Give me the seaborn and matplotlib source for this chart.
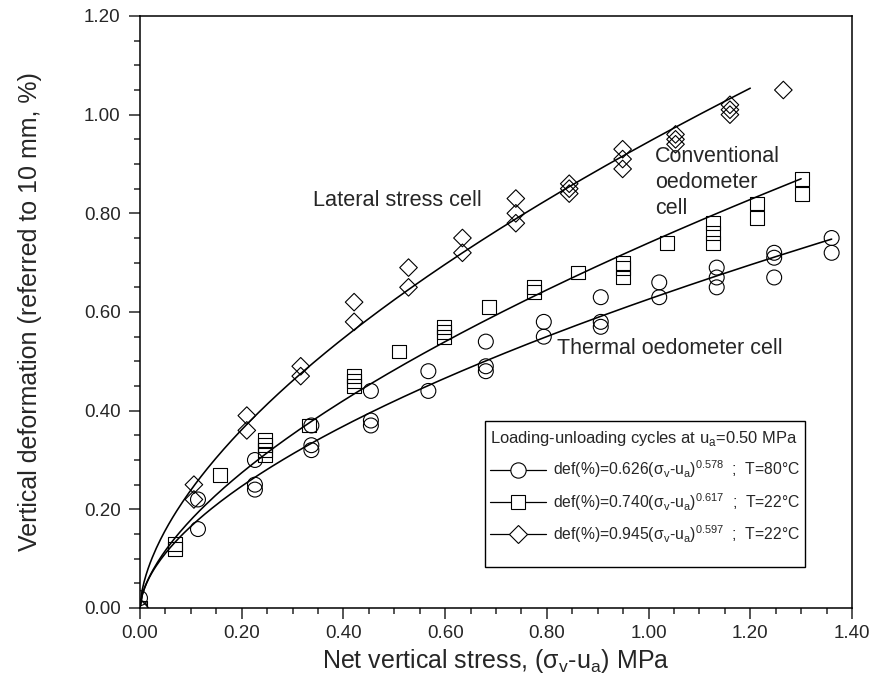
import numpy as np
import pandas as pd
import matplotlib
matplotlib.use("Agg")
import matplotlib.pyplot as plt
from matplotlib.lines import Line2D
from matplotlib.patches import Rectangle
from matplotlib.ticker import MultipleLocator, FormatStrFormatter
import seaborn as sns

# ---------------- data ----------------
thermal_x = [0.0, 0.0, 0.114, 0.114, 0.226, 0.226, 0.226, 0.337, 0.337, 0.337,
             0.454, 0.454, 0.454, 0.567, 0.567, 0.680, 0.680, 0.680, 0.794, 0.794,
             0.906, 0.906, 0.906, 1.021, 1.021, 1.134, 1.134, 1.134,
             1.247, 1.247, 1.247, 1.360, 1.360]
thermal_y = [0.0, 0.02, 0.16, 0.22, 0.24, 0.25, 0.30, 0.32, 0.33, 0.37,
             0.37, 0.38, 0.44, 0.44, 0.48, 0.48, 0.49, 0.54, 0.55, 0.58,
             0.57, 0.58, 0.63, 0.63, 0.66, 0.65, 0.67, 0.69,
             0.67, 0.71, 0.72, 0.72, 0.75]

conv_x = [0.0, 0.069, 0.069, 0.158, 0.245, 0.245, 0.245, 0.245, 0.333,
          0.421, 0.421, 0.421, 0.509, 0.598, 0.598, 0.598, 0.686, 0.775, 0.775,
          0.862, 0.950, 0.950, 0.950, 1.037, 1.126, 1.126, 1.126,
          1.214, 1.214, 1.302, 1.302]
conv_y = [0.0, 0.12, 0.13, 0.27, 0.31, 0.32, 0.33, 0.34, 0.37,
          0.45, 0.46, 0.47, 0.52, 0.55, 0.56, 0.57, 0.61, 0.64, 0.65,
          0.68, 0.67, 0.69, 0.70, 0.74, 0.74, 0.76, 0.78,
          0.79, 0.82, 0.84, 0.87]

lat_x = [0.0, 0.106, 0.106, 0.210, 0.210, 0.316, 0.316, 0.421, 0.421,
         0.528, 0.528, 0.634, 0.634, 0.739, 0.739, 0.739, 0.844, 0.844, 0.844,
         0.949, 0.949, 0.949, 1.053, 1.053, 1.053, 1.160, 1.160, 1.160, 1.265]
lat_y = [0.0, 0.22, 0.25, 0.36, 0.39, 0.47, 0.49, 0.58, 0.62,
         0.65, 0.69, 0.72, 0.75, 0.78, 0.80, 0.83, 0.84, 0.85, 0.86,
         0.89, 0.91, 0.93, 0.94, 0.95, 0.96, 1.00, 1.01, 1.02, 1.05]

# fitted power laws stated in the legend: def = a * (sv-ua)^b
fit_a = [0.626, 0.740, 0.945]
fit_b = [0.578, 0.617, 0.597]
fit_xmax = [1.36, 1.30, 1.20]
fit_temp = ["T=80°C", "T=22°C", "T=22°C"]

x_ticks = [0.0, 0.2, 0.4, 0.6, 0.8, 1.0, 1.2, 1.4]
y_ticks = [0.0, 0.2, 0.4, 0.6, 0.8, 1.0, 1.2]

# ---------------- style ----------------
sns.set_style("ticks")
plt.rcParams["font.family"] = ["Liberation Sans", "DejaVu Sans"]
plt.rcParams["mathtext.fontset"] = "custom"
plt.rcParams["mathtext.rm"] = "Liberation Sans"

fig = plt.figure(figsize=(8.74, 6.84), dpi=100)
ax = fig.add_axes([140 / 874, (684 - 608) / 684, 712 / 874, (608 - 16) / 684])

markers = ["o", "s", "D"]
msizes = [115, 100, 80]
series = [(thermal_x, thermal_y), (conv_x, conv_y), (lat_x, lat_y)]

for i, (xs, ys) in enumerate(series):
    df = pd.DataFrame({"x": xs, "y": ys})
    sns.scatterplot(data=df, x="x", y="y", marker=markers[i], s=msizes[i],
                    facecolor="none", edgecolor="black", linewidth=0.8,
                    ax=ax, zorder=3)
    xf = np.linspace(0, fit_xmax[i], 300)
    fdf = pd.DataFrame({"x": xf, "y": fit_a[i] * xf ** fit_b[i]})
    sns.lineplot(data=fdf, x="x", y="y", color="black", linewidth=1.15,
                 ax=ax, zorder=2)

ax.set_xlim(0, 1.4)
ax.set_ylim(0, 1.2)
ax.set_xticks(x_ticks)
ax.set_yticks(y_ticks)
ax.xaxis.set_minor_locator(MultipleLocator(0.05))
ax.yaxis.set_minor_locator(MultipleLocator(0.05))
ax.xaxis.set_major_formatter(FormatStrFormatter("%.2f"))
ax.yaxis.set_major_formatter(FormatStrFormatter("%.2f"))
ax.tick_params(which="major", direction="out", length=8, width=1.1,
               labelsize=13.5, top=False, right=False)
ax.tick_params(axis="x", which="major", pad=4)
ax.tick_params(axis="y", which="major", pad=6)
ax.tick_params(which="minor", direction="out", length=4.5, width=1.1,
               top=False, right=False)
for sp in ax.spines.values():
    sp.set_visible(True)
    sp.set_linewidth(1.1)
    sp.set_color("black")

ax.set_xlabel(r"Net vertical stress, (σ$_\mathregular{v}$-u$_\mathregular{a}$) MPa",
              fontsize=18, labelpad=4)
ax.set_ylabel("Vertical deformation (referred to 10 mm, %)", fontsize=18,
              labelpad=30)

ax.text(0.340, 0.825, "Lateral stress cell", fontsize=15.7, va="center", ha="left")
ax.text(1.013, 0.862, "Conventional\noedometer\ncell", fontsize=15.5,
        va="center", ha="left", linespacing=1.3)
ax.text(1.264, 0.527, "Thermal oedometer cell", fontsize=15.5, va="center", ha="right")

handles = []
labels = []
for i in range(3):
    h = Line2D([], [], color="black", linewidth=0.9, marker=markers[i],
               markersize=[11, 10, 9][i], markerfacecolor="white",
               markeredgecolor="black", markeredgewidth=0.8)
    handles.append(h)
    labels.append(
        "def(%%)=%.3f(σ$_\\mathregular{v}$-u$_\\mathregular{a}$)$^\\mathregular{%.3f}$  ;  %s"
        % (fit_a[i], fit_b[i], fit_temp[i]))

# legend frame drawn as a box in axes coordinates
box_x0, box_x1 = (485 - 140) / 712, (805 - 140) / 712
box_y0, box_y1 = (608 - 567) / 592, (608 - 421) / 592
ax.add_patch(Rectangle((box_x0, box_y0), box_x1 - box_x0, box_y1 - box_y0,
                       transform=ax.transAxes, facecolor="white",
                       edgecolor="black", linewidth=1.0, zorder=4))

leg = ax.legend(handles, labels,
                title="Loading-unloading cycles at u$_\\mathregular{a}$=0.50 MPa",
                loc="upper left", bbox_to_anchor=(box_x0, (608 - 424) / 592),
                fontsize=11.35, title_fontsize=11.9, frameon=False,
                handlelength=3.6, handletextpad=0.4,
                borderpad=0.3, borderaxespad=0.0, labelspacing=0.68)
leg.set_zorder(5)
leg._legend_box.align = "left"

fig.savefig("out.png", dpi=100)
